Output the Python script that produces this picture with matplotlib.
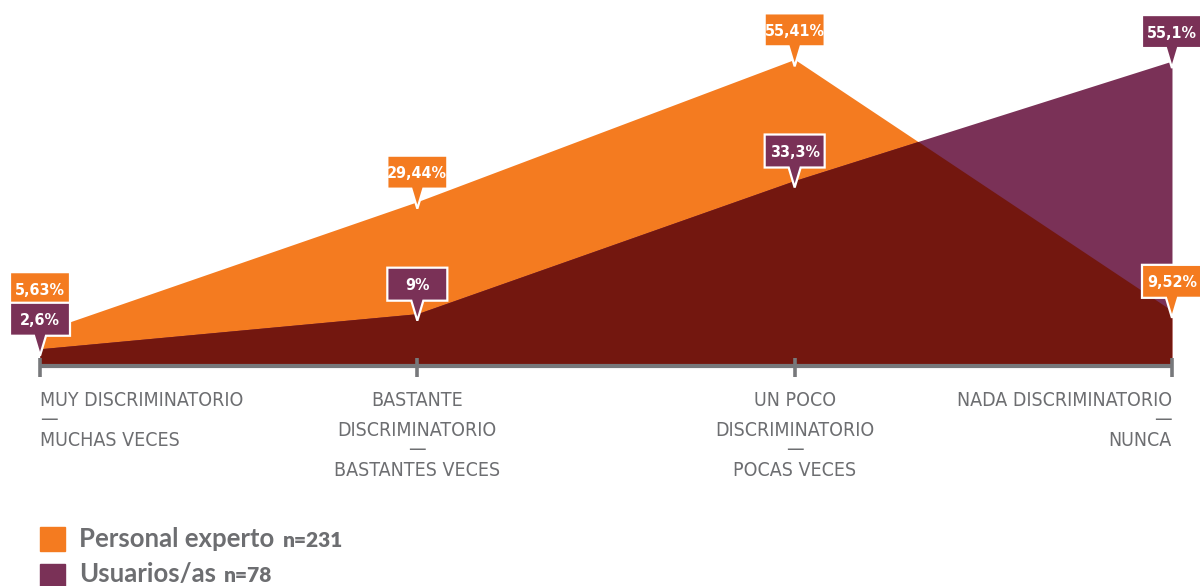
import numpy as np
import matplotlib
matplotlib.use('Agg')
import matplotlib.pyplot as plt
import matplotlib.transforms as mtransforms
from matplotlib import font_manager
from matplotlib.patches import Polygon

# data
categories = [
    ["MUY DISCRIMINATORIO", "—", "MUCHAS VECES"],
    ["BASTANTE", "DISCRIMINATORIO", "—", "BASTANTES VECES"],
    ["UN POCO", "DISCRIMINATORIO", "—", "POCAS VECES"],
    ["NADA DISCRIMINATORIO", "—", "NUNCA"],
]
experto = [5.63, 29.44, 55.41, 9.52]
usuarios = [2.6, 9.0, 33.3, 55.1]
experto_labels = ["5,63%", "29,44%", "55,41%", "9,52%"]
usuarios_labels = ["2,6%", "9%", "33,3%", "55,1%"]
series_names = ["Personal experto", "Usuarios/as"]
series_n = ["n=231", "n=78"]

ORANGE = '#f47b20'
PURPLE = '#7a3157'
DARK = '#73170f'
AXIS_GRAY = '#77787b'
TEXT_GRAY = '#6d6e71'

# pick a condensed face if one is installed, else Liberation Sans
_names = {f.name for f in font_manager.fontManager.ttflist}
_dv_cond = any(f.name == 'DejaVu Sans' and 'condensed' in str(f.stretch)
               for f in font_manager.fontManager.ttflist)
if 'Liberation Sans Narrow' in _names:
    NARROW, NSTRETCH, LBL_SIZE, BOX_SIZE = ['Liberation Sans Narrow', 'DejaVu Sans'], 'normal', 15, 13.5
elif _dv_cond:
    NARROW, NSTRETCH, LBL_SIZE, BOX_SIZE = ['DejaVu Sans'], 'condensed', 14, 11.5
else:
    NARROW, NSTRETCH, LBL_SIZE, BOX_SIZE = ['Liberation Sans', 'DejaVu Sans'], 'normal', 13.5, 11
LEG_FONT = ['Lato', 'DejaVu Sans']

# layout: 1 px = 1/100 inch
W, H = 1200, 586
x0_px, step_px = 40, 377.33
base_px, yscale = 363, 5.48   # baseline from top, px per percent

fig = plt.figure(figsize=(W / 100, H / 100), dpi=100, facecolor='white')
ax = fig.add_axes([0, 0, 1, 1])
ax.set_xlim(-x0_px / step_px, (W - x0_px) / step_px)
ax.set_ylim(-(H - base_px) / yscale, base_px / yscale)
ax.axis('off')

x = np.arange(len(categories))

orange_area = ax.fill_between(x, -0.3, experto, color=ORANGE, lw=0, zorder=1)
ax.fill_between(x, -0.3, usuarios, color=PURPLE, lw=0, zorder=2)
overlap = ax.fill_between(x, -0.3, usuarios, color=DARK, lw=0, zorder=3)
overlap.set_clip_path(orange_area.get_paths()[0], ax.transData)

# axis line + ticks
ax.plot([x[0], x[-1]], [-3 / yscale, -3 / yscale], color=AXIS_GRAY, lw=3,
        solid_capstyle='butt', zorder=4)
for xi in x:
    ax.plot([xi, xi], [5 / yscale, -14 / yscale], color=AXIS_GRAY, lw=2.6,
            solid_capstyle='butt', zorder=4)

# category labels
for i, lines in enumerate(categories):
    ha = 'left' if i == 0 else ('right' if i == len(categories) - 1 else 'center')
    off = 37
    prev = None
    for ln in lines:
        if prev is not None:
            off += 20 if (ln == "—" or prev == "—") else 30
        ax.annotate(ln, xy=(i, 0), xytext=(0, -off * 0.72),
                    textcoords='offset points', ha=ha, va='center',
                    fontsize=LBL_SIZE, fontstretch=NSTRETCH, color=TEXT_GRAY, family=NARROW)
        prev = ln


def callout(xv, yv, label, color, lift=0):
    t = mtransforms.Affine2D() + mtransforms.ScaledTranslation(xv, yv, ax.transData)
    b0, b1, hw = 13 + lift, 46 + lift, 30
    verts = [(0, -7), (6, b0), (hw, b0), (hw, b1), (-hw, b1), (-hw, b0), (-6, b0)]
    p = Polygon(verts, closed=True, facecolor=color, edgecolor='white',
                lw=1.6, joinstyle='miter', transform=t, zorder=6)
    ax.add_patch(p)
    ax.text(0, (b0 + b1) / 2, label, transform=t, ha='center', va='center_baseline',
            color='white', fontsize=BOX_SIZE, fontweight='bold', fontstretch=NSTRETCH,
            family=NARROW, zorder=7)


# first orange box sits above the purple one
experto_lift = [14, 0, 0, 0]
for xi, v, lab, lf in zip(x, experto, experto_labels, experto_lift):
    callout(xi, v, lab, ORANGE, lf)
for xi, v, lab in zip(x, usuarios, usuarios_labels):
    callout(xi, v, lab, PURPLE)

# legend
for k, (name, n, col) in enumerate(zip(series_names, series_n, [ORANGE, PURPLE])):
    top = 527 + k * 37
    fig.patches.append(plt.Rectangle((40 / W, 1 - (top + 24) / H), 25 / W, 24 / H,
                                     transform=fig.transFigure, color=col, figure=fig))
    t1 = fig.text(79 / W, 1 - (top + 12 - k * 2) / H, name, ha='left', va='center',
                  fontsize=18.5, fontweight='bold', color=TEXT_GRAY, family=LEG_FONT)
    ax.annotate(n, xy=(1, 0.5), xycoords=t1, xytext=(6, -1), textcoords='offset points',
                ha='left', va='center', fontsize=15, fontweight='heavy', color=TEXT_GRAY,
                family=LEG_FONT, annotation_clip=False)

fig.savefig('out.png', dpi=100, facecolor='white')
